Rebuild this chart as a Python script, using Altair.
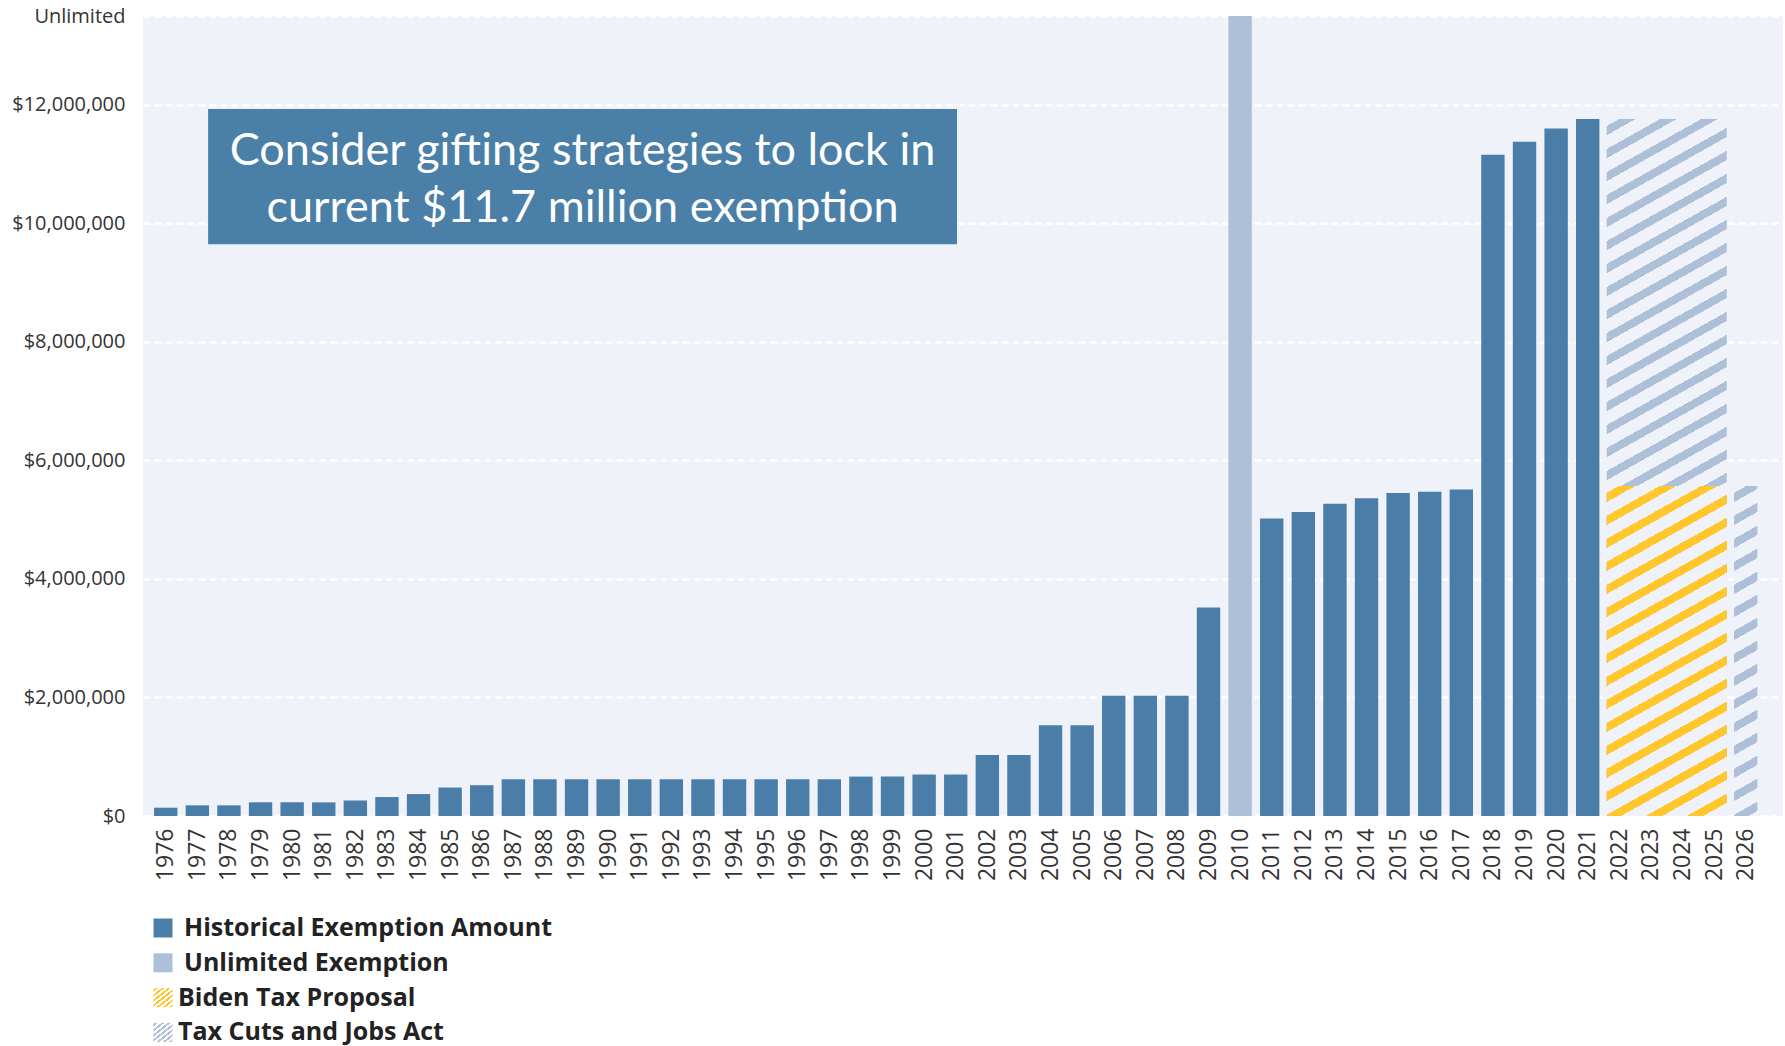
import altair as alt
import pandas as pd

# ---------------- data ----------------
YEARS = list(range(1976, 2022))
HISTORICAL = [
    140_000, 180_000, 180_000, 230_000, 230_000, 230_000, 260_000, 320_000, 370_000, 480_000, 520_000,
    620_000, 620_000, 620_000, 620_000, 620_000, 620_000, 620_000, 620_000, 620_000, 620_000, 620_000,
    665_000, 665_000, 700_000, 700_000,
    1_030_000, 1_030_000, 1_530_000, 1_530_000, 2_030_000, 2_030_000, 2_030_000, 3_520_000,
    None,
    5_020_000, 5_130_000, 5_270_000, 5_360_000, 5_450_000, 5_470_000, 5_510_000,
    11_160_000, 11_380_000, 11_600_000, 11_760_000,
]
UNLIMITED_YEAR = 2010
UNLIMITED_VALUE = 13_500_000          # top of the axis, labelled "Unlimited"

TCJA_YEARS = [2022, 2025]              # span of the hatched TCJA block
TCJA_VALUE = 11_760_000
TCJA_2026_YEAR = 2026
TCJA_2026_VALUE = 5_570_000
BIDEN_YEARS = [2022, 2025]
BIDEN_VALUE = 5_570_000

Y_TICKS = [0, 2_000_000, 4_000_000, 6_000_000, 8_000_000, 10_000_000, 12_000_000, 13_500_000]
X_TICKS = list(range(1976, 2027))

LEGEND_LABELS = ["Historical Exemption Amount", "Unlimited Exemption",
                 "Biden Tax Proposal", "Tax Cuts and Jobs Act"]
ANNOTATION = "Consider gifting strategies to lock in\ncurrent $11.7 million exemption"

# ---------------- styles / layout ----------------
BLUE = "#4A7EA8"
LIGHT = "#AEC0D8"
YELLOW = "#FFC72C"
BG = "#EFF2F9"
TEXT = "#333333"
FONT = "Open Sans"

W, H = 1640, 800
X_DOMAIN = [1975.28, 2027.18]
PX_PER_YEAR = W / (X_DOMAIN[1] - X_DOMAIN[0])
PX_PER_DOLLAR = H / UNLIMITED_VALUE
HALF = 0.37      # half bar width in years
BLOCK_HALF = 0.40

ANN_BOX = dict(x0=1977.34, x1=2001.04, y0=9_650_000, y1=11_930_000)
ANN_LINE_HEIGHT = 57


def hatch(w, h, stripe, bg, period, slope, frac):
    r = (h / w) / slope
    dx = (1 + r) / (1 + r * r)
    dy = r * dx
    n = (h + w * slope) / period
    stops = [alt.GradientStop(color=bg, offset=0)]
    k = 0
    while True:
        a = (k + 0.5 - frac / 2) / n
        b = (k + 0.5 + frac / 2) / n
        if a >= 1:
            break
        b = min(b, 1.0)
        a = round(a, 5)
        b = round(b, 5)
        stops += [alt.GradientStop(color=bg, offset=a), alt.GradientStop(color=stripe, offset=a),
                  alt.GradientStop(color=stripe, offset=b), alt.GradientStop(color=bg, offset=b)]
        k += 1
    stops.append(alt.GradientStop(color=bg, offset=1))
    return alt.LinearGradient(gradient="linear", stops=stops, x1=0, y1=0, x2=round(dx, 5), y2=round(dy, 5))


# ---------------- frames ----------------
hist_rows = []
for yr, v in zip(YEARS, HISTORICAL):
    if yr == UNLIMITED_YEAR:
        hist_rows.append({"year": yr, "value": UNLIMITED_VALUE, "kind": "Unlimited"})
    else:
        hist_rows.append({"year": yr, "value": v, "kind": "Historical"})
hist_df = pd.DataFrame(hist_rows)

proj_df = pd.DataFrame([
    {"name": "tcja", "start": TCJA_YEARS[0], "end": TCJA_YEARS[1], "value": TCJA_VALUE},
    {"name": "tcja2026", "start": TCJA_2026_YEAR, "end": TCJA_2026_YEAR, "value": TCJA_2026_VALUE},
    {"name": "biden", "start": BIDEN_YEARS[0], "end": BIDEN_YEARS[1], "value": BIDEN_VALUE},
])

x_scale = alt.Scale(domain=X_DOMAIN, nice=False, zero=False)
y_scale = alt.Scale(domain=[0, UNLIMITED_VALUE], nice=False)

x_axis = alt.Axis(values=X_TICKS, format="d", labelAngle=270, labelPadding=12, ticks=False,
                  domain=False, grid=False, title=None, labelFontSize=23, labelFont=FONT,
                  labelColor=TEXT, labelOverlap=False, labelFlush=False, labelSeparation=0,
                  labelBound=False)
y_axis = alt.Axis(values=Y_TICKS, ticks=False, domain=False, title=None, labelFontSize=20,
                  labelFont=FONT, labelColor=TEXT, labelPadding=18, labelOverlap=False,
                  labelFlush=False, gridColor="white", gridWidth=2.5, gridDash=[7, 4],
                  labelExpr="datum.value >= 13000000 ? 'Unlimited' : '$' + format(datum.value, ',')")

bars = alt.Chart(hist_df).transform_calculate(
    x0=f"datum.year - {HALF}", x1=f"datum.year + {HALF}"
).mark_rect(strokeWidth=0).encode(
    x=alt.X("x0:Q", scale=x_scale, axis=x_axis),
    x2="x1:Q",
    y=alt.Y("value:Q", scale=y_scale, axis=y_axis),
    y2=alt.datum(0),
    color=alt.Color("kind:N", scale=alt.Scale(domain=["Historical", "Unlimited"], range=[BLUE, LIGHT]),
                    legend=None),
)


def proj_layer(name, stripe, w_years, value, half):
    wpx = (w_years + 2 * half) * PX_PER_YEAR
    hpx = value * PX_PER_DOLLAR
    return alt.Chart(proj_df).transform_filter(f"datum.name == '{name}'").transform_calculate(
        x0=f"datum.start - {half}", x1=f"datum.end + {half}"
    ).mark_rect(strokeWidth=0, fill=hatch(wpx, hpx, stripe, BG, 23, 0.56, 0.4)).encode(
        x=alt.X("x0:Q", axis=x_axis), x2="x1:Q", y=alt.Y("value:Q", axis=y_axis), y2=alt.datum(0)
    )


tcja = proj_layer("tcja", LIGHT, TCJA_YEARS[1] - TCJA_YEARS[0], TCJA_VALUE, BLOCK_HALF)
tcja26 = proj_layer("tcja2026", LIGHT, 0, TCJA_2026_VALUE, HALF)
biden = proj_layer("biden", YELLOW, BIDEN_YEARS[1] - BIDEN_YEARS[0], BIDEN_VALUE, BLOCK_HALF)

ann_df = pd.DataFrame([{**ANN_BOX, "xc": (ANN_BOX["x0"] + ANN_BOX["x1"]) / 2,
                        "yc": (ANN_BOX["y0"] + ANN_BOX["y1"]) / 2, "text": ANNOTATION}])
ann_box = alt.Chart(ann_df).mark_rect(color="#4A7FA7", strokeWidth=0).encode(
    x=alt.X("x0:Q", axis=x_axis), x2="x1:Q", y=alt.Y("y0:Q", axis=y_axis), y2="y1:Q")
ann_text = alt.Chart(ann_df).mark_text(font="Lato", fontSize=45, color="white", lineBreak="\n",
                                       lineHeight=ANN_LINE_HEIGHT, align="center", baseline="middle",
                                       dy=-ANN_LINE_HEIGHT / 2 + 3).encode(
    x=alt.X("xc:Q", axis=x_axis), y=alt.Y("yc:Q", axis=y_axis), text="text:N")

main = alt.layer(bars, tcja, tcja26, biden, ann_box, ann_text).properties(
    width=W, height=H, view=alt.ViewBackground(fill=BG, stroke=None))

# ---------------- legend ----------------
leg_df = pd.DataFrame({"label": LEGEND_LABELS})
ly = alt.Y("label:N", sort=LEGEND_LABELS, axis=None, scale=alt.Scale(type="point", padding=0))
solid = alt.Chart(leg_df).transform_filter(
    alt.FieldOneOfPredicate(field="label", oneOf=LEGEND_LABELS[:2])
).mark_square(size=361, opacity=1, filled=True, strokeWidth=0).encode(
    x=alt.value(20), y=ly,
    color=alt.Color("label:N", scale=alt.Scale(domain=LEGEND_LABELS[:2], range=[BLUE, LIGHT]), legend=None))
leg_biden = alt.Chart(leg_df).transform_filter(f"datum.label == '{LEGEND_LABELS[2]}'").mark_square(
    size=361, opacity=1, filled=True, strokeWidth=0, fill=hatch(19, 19, YELLOW, "white", 5, 0.8, 0.5)
).encode(x=alt.value(20), y=ly)
leg_tcja = alt.Chart(leg_df).transform_filter(f"datum.label == '{LEGEND_LABELS[3]}'").mark_square(
    size=361, opacity=1, filled=True, strokeWidth=0, fill=hatch(19, 19, LIGHT, "white", 5, 0.8, 0.5)
).encode(x=alt.value(20), y=ly)
txt1 = alt.Chart(leg_df).transform_filter(
    alt.FieldOneOfPredicate(field="label", oneOf=LEGEND_LABELS[:2])
).mark_text(align="left", baseline="middle", font=FONT, fontSize=25, fontWeight="bold",
            color="#222222").encode(x=alt.value(41), y=ly, text="label:N")
txt2 = alt.Chart(leg_df).transform_filter(
    alt.FieldOneOfPredicate(field="label", oneOf=LEGEND_LABELS[2:])
).mark_text(align="left", baseline="middle", font=FONT, fontSize=25, fontWeight="bold",
            color="#222222").encode(x=alt.value(35), y=ly, text="label:N")

legend = alt.layer(solid, leg_biden, leg_tcja, txt1, txt2).properties(
    width=600, height=104.4, view=alt.ViewBackground(fill="white", stroke=None))

chart = alt.vconcat(main, legend, spacing=35).properties(
    padding={"left": 11, "top": 6, "right": 0, "bottom": 0}
).configure_view(stroke=None).configure_axisX(labelOverlap=False)

chart.save("out.html", embed_options={"renderer": "svg", "actions": False})
